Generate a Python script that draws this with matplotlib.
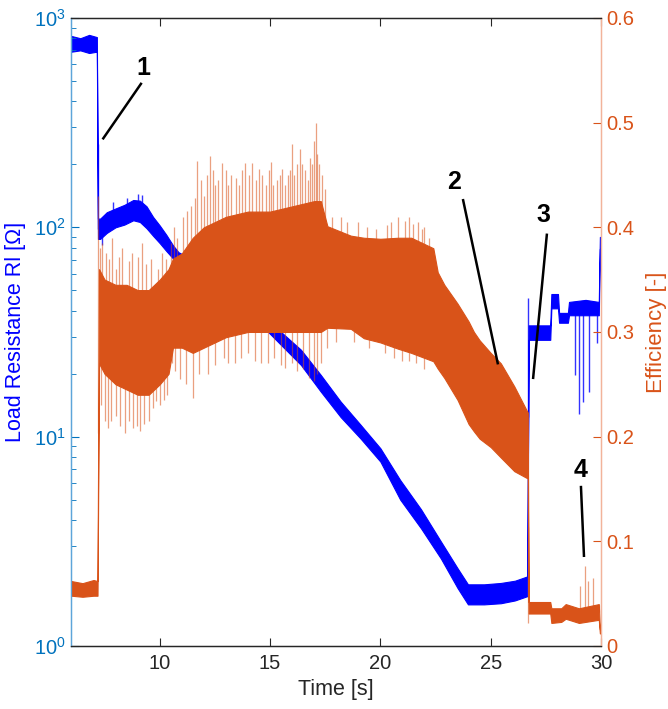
import numpy as np
import matplotlib
matplotlib.use("Agg")
import matplotlib.pyplot as plt
from matplotlib.ticker import LogLocator, LogFormatterMathtext, FixedLocator

plt.rcParams['font.family'] = ['Liberation Sans', 'DejaVu Sans']
plt.rcParams['mathtext.fontset'] = 'custom'
plt.rcParams['mathtext.rm'] = 'Liberation Sans'
plt.rcParams['mathtext.it'] = 'Liberation Sans:italic'
plt.rcParams['mathtext.bf'] = 'Liberation Sans:bold'

# ---------------- data ----------------
# Load resistance (left, log axis): envelope of the noisy trace
blue_t = [6.0, 6.4, 6.8, 7.15, 7.2, 7.3, 7.6, 8.0, 8.4, 8.8, 9.1, 9.4, 9.7, 10.0,
          10.3, 10.6, 10.85, 11.5, 12.5, 13.5, 14.5, 15.5, 16.4, 17.3, 18.2, 19.1,
          20.0, 20.9, 21.84, 22.74, 23.5, 23.97, 24.7, 25.46, 26.1, 26.66,
          26.72, 27.7, 27.75, 28.05, 28.1, 28.5, 28.55, 29.3, 29.9, 29.95, 30.0]
blue_lo = [690, 700, 680, 690, 88, 88, 94, 100, 103, 108, 106, 99, 91, 84,
           77, 71, 67, 60, 51, 43, 35, 27.4, 22.0, 16.4, 12.4, 9.8,
           7.6, 5.0, 3.65, 2.62, 1.89, 1.58, 1.58, 1.60, 1.65, 1.73,
           29, 29, 41, 41, 35, 35, 38, 38, 38, 79, 78]
blue_hi = [820, 800, 830, 810, 110, 110, 118, 123, 128, 135, 134, 126, 112, 102,
           92, 82, 76, 70, 60, 51, 42, 31.6, 26.0, 19.7, 14.7, 11.4,
           8.8, 6.2, 4.5, 3.16, 2.35, 1.97, 1.97, 2.00, 2.05, 2.15,
           34, 34, 48, 48, 39, 39, 44, 45, 44, 90, 88]
blue_spike_t = [7.2, 7.4, 7.9, 8.5, 9.0, 9.2, 26.7, 28.82, 29.0, 29.19, 29.46, 29.8]
blue_spike_v = [250, 82, 132, 138, 145, 142, 46, 19.8, 12.8, 14.7, 16.4, 28]

# Efficiency (right axis): envelope of the dense trace
eff_t = [6.0, 6.5, 7.0, 7.18, 7.25, 7.5, 8.0, 8.5, 9.0, 9.5, 10.0, 10.4, 10.6,
         11.0, 11.5, 12.0, 13.0, 14.0, 15.0, 16.0, 17.0, 17.3, 17.6, 18.66,
         19.25, 20.0, 20.8, 21.4, 22.4, 22.6, 22.9, 23.5, 24.0, 24.24, 24.5,
         25.0, 25.46, 26.07, 26.68, 26.72, 27.7, 27.75, 28.2, 28.4, 29.0,
         29.9, 29.95, 30.0]
eff_hi = [0.062, 0.060, 0.063, 0.062, 0.36, 0.35, 0.345, 0.345, 0.34, 0.34,
          0.35, 0.36, 0.37, 0.375, 0.39, 0.40, 0.41, 0.415, 0.415, 0.42, 0.425,
          0.425, 0.401, 0.392, 0.39, 0.389, 0.39, 0.39, 0.38, 0.357, 0.345,
          0.327, 0.31, 0.30, 0.292, 0.28, 0.27, 0.248, 0.223, 0.042, 0.042,
          0.036, 0.036, 0.040, 0.036, 0.040, 0.016, 0.016]
eff_lo = [0.048, 0.047, 0.048, 0.048, 0.27, 0.26, 0.25, 0.245, 0.24, 0.24,
          0.25, 0.26, 0.285, 0.285, 0.28, 0.285, 0.295, 0.30, 0.30, 0.30, 0.30,
          0.30, 0.304, 0.303, 0.294, 0.29, 0.284, 0.28, 0.272, 0.265, 0.256,
          0.235, 0.212, 0.205, 0.198, 0.19, 0.18, 0.167, 0.16, 0.031, 0.031,
          0.022, 0.023, 0.026, 0.022, 0.025, 0.012, 0.012]
eff_up_t = [7.22, 7.3, 7.4, 7.55, 7.7, 7.85, 8.0, 8.15, 8.3, 8.6, 8.75, 9.0,
            9.2, 9.4, 9.6, 9.9, 10.1, 10.3, 10.5, 10.65, 10.8, 11.05, 11.25,
            11.4, 11.6, 11.7, 11.85, 12.0, 12.15, 12.28, 12.4, 12.5, 12.65,
            12.84, 13.0, 13.1, 13.25, 13.45, 13.6, 13.75, 13.87, 14.05, 14.2,
            14.35, 14.5, 14.65, 14.8, 14.95, 15.05, 15.15, 15.3, 15.45, 15.55,
            15.7, 15.8, 15.9, 16.0, 16.1, 16.2, 16.35, 16.45, 16.6, 16.7, 16.8,
            16.9, 17.0, 17.07, 17.15, 17.2, 17.35, 17.5, 17.8, 18.2, 18.5, 19.0,
            19.4, 19.8, 20.3, 20.5, 20.8, 21.1, 21.3, 21.5, 21.7, 21.9, 22.0,
            22.2, 29.05, 29.27, 29.4, 29.64, 29.9]
eff_up_v = [0.43, 0.38, 0.385, 0.375, 0.37, 0.39, 0.36, 0.372, 0.38, 0.368,
            0.375, 0.372, 0.385, 0.365, 0.37, 0.36, 0.375, 0.37, 0.385, 0.40,
            0.39, 0.41, 0.416, 0.42, 0.428, 0.463, 0.445, 0.43, 0.45, 0.468,
            0.455, 0.44, 0.445, 0.461, 0.455, 0.44, 0.45, 0.447, 0.44, 0.455,
            0.461, 0.45, 0.461, 0.445, 0.456, 0.45, 0.44, 0.455, 0.462, 0.44,
            0.445, 0.45, 0.456, 0.44, 0.45, 0.455, 0.48, 0.45, 0.46, 0.475,
            0.46, 0.455, 0.445, 0.466, 0.46, 0.482, 0.50, 0.47, 0.46, 0.45,
            0.437, 0.41, 0.41, 0.405, 0.405, 0.40, 0.398, 0.402, 0.405, 0.41,
            0.406, 0.41, 0.403, 0.405, 0.398, 0.40, 0.39, 0.057, 0.076, 0.062,
            0.065, 0.039]
eff_dn_t = [7.35, 7.5, 7.66, 7.8, 8.0, 8.2, 8.42, 8.6, 8.8, 8.95, 9.1, 9.3,
            9.5, 9.7, 9.83, 10.0, 10.2, 10.35, 10.55, 10.7, 10.9, 11.2, 11.5,
            11.8, 12.2, 12.5, 12.9, 13.1, 13.4, 13.7, 14.0, 14.3, 14.6, 14.9,
            15.2, 15.5, 15.7, 16.0, 16.2, 16.5, 16.75, 17.0, 17.15, 17.3, 17.6,
            18.0, 18.8, 19.5, 20.2, 20.6, 21.0, 21.3, 21.6, 22.0, 26.7]
eff_dn_v = [0.23, 0.215, 0.208, 0.215, 0.22, 0.21, 0.203, 0.215, 0.208, 0.21,
            0.205, 0.212, 0.215, 0.227, 0.234, 0.23, 0.235, 0.24, 0.27, 0.263,
            0.255, 0.25, 0.237, 0.26, 0.26, 0.268, 0.275, 0.27, 0.27, 0.275,
            0.28, 0.272, 0.27, 0.27, 0.275, 0.268, 0.266, 0.27, 0.263, 0.265,
            0.256, 0.253, 0.26, 0.27, 0.285, 0.29, 0.29, 0.285, 0.28, 0.275,
            0.272, 0.272, 0.27, 0.265, 0.022]

# annotations: label, text position, line start, line end (time, efficiency)
ann_labels = ['1', '2', '3', '4']
ann_text = [(9.27, 0.552), (23.33, 0.443), (27.37, 0.412), (29.09, 0.168)]
ann_from = [(9.18, 0.538), (23.74, 0.427), (27.55, 0.394), (29.09, 0.153)]
ann_to = [(7.41, 0.484), (25.33, 0.269), (26.92, 0.255), (29.23, 0.085)]

x_ticks = [10, 15, 20, 25, 30]
eff_ticks = [0, 0.1, 0.2, 0.3, 0.4, 0.5, 0.6]

# ---------------- styling ----------------
BLUE = '#0000FF'
ORANGE = '#D95319'
LAXIS = '#0072BD'
DARK = '#262626'
FS = 14.5

fig = plt.figure(figsize=(6.68, 7.09), dpi=100)
ax = fig.add_axes([0.1070, 0.0889, 0.7927, 0.8858])
ax2 = ax.twinx()

# blue trace
ax.fill_between(blue_t, blue_lo, blue_hi, color=BLUE, lw=0.8, edgecolor=BLUE)
bmid = np.sqrt(np.array(blue_lo) * np.array(blue_hi))
bbase = np.exp(np.interp(blue_spike_t, blue_t, np.log(bmid)))
ax.vlines(blue_spike_t, bbase, blue_spike_v, colors=BLUE, lw=1.0, alpha=0.8)

# orange trace
ax2.fill_between(eff_t, eff_lo, eff_hi, color=ORANGE, lw=0.8, edgecolor=ORANGE)
emid = (np.array(eff_lo) + np.array(eff_hi)) / 2
ax2.vlines(eff_up_t, np.interp(eff_up_t, eff_t, emid), eff_up_v,
           colors=ORANGE, lw=0.9, alpha=0.55)
ax2.vlines(eff_dn_t, np.interp(eff_dn_t, eff_t, emid), eff_dn_v,
           colors=ORANGE, lw=0.9, alpha=0.55)

# axes limits & scales
ax.set_xlim(6, 30)
ax.set_yscale('log')
ax.set_ylim(1, 1000)
ax2.set_ylim(0, 0.6)

ax.xaxis.set_major_locator(FixedLocator(x_ticks))
ax.yaxis.set_major_locator(LogLocator(base=10, numticks=10))
ax.yaxis.set_major_formatter(LogFormatterMathtext())
ax.yaxis.set_minor_locator(LogLocator(base=10, subs=np.arange(2, 10), numticks=20))
ax2.yaxis.set_major_locator(FixedLocator(eff_ticks))
ax2.set_yticklabels(['0', '0.1', '0.2', '0.3', '0.4', '0.5', '0.6'])

ax.tick_params(axis='x', which='both', direction='in', top=True, length=6,
               labelsize=FS, colors=DARK, pad=6)
ax.tick_params(axis='y', which='major', direction='in', length=6, labelsize=FS,
               colors=LAXIS, pad=4)
ax.tick_params(axis='y', which='minor', direction='in', length=3.5, colors=LAXIS)
ax2.tick_params(axis='y', which='major', direction='in', length=6, labelsize=FS,
                colors=ORANGE, pad=4)

for a in (ax, ax2):
    a.spines['top'].set_color(DARK)
    a.spines['bottom'].set_color(DARK)
    a.spines['left'].set_color('#5DA5DA')
    a.spines['right'].set_color('#F2B39A')
    for s in a.spines.values():
        s.set_linewidth(0.9)

ax.set_xlabel('Time [s]', fontsize=FS + 1, color=DARK, labelpad=4)
ax.set_ylabel('Load Resistance Rl [Ω]', fontsize=FS + 1, color=BLUE, labelpad=6)
ax2.set_ylabel('Efficiency [-]', fontsize=FS + 1.5, color=ORANGE, labelpad=8)

for lab, tp, p0, p1 in zip(ann_labels, ann_text, ann_from, ann_to):
    ax2.text(tp[0], tp[1], lab, fontsize=18, fontweight='bold', color='black',
             ha='center', va='center')
    ax2.plot([p0[0], p1[0]], [p0[1], p1[1]], color='black', lw=1.8,
             solid_capstyle='butt')

fig.savefig('out.png', dpi=100)
